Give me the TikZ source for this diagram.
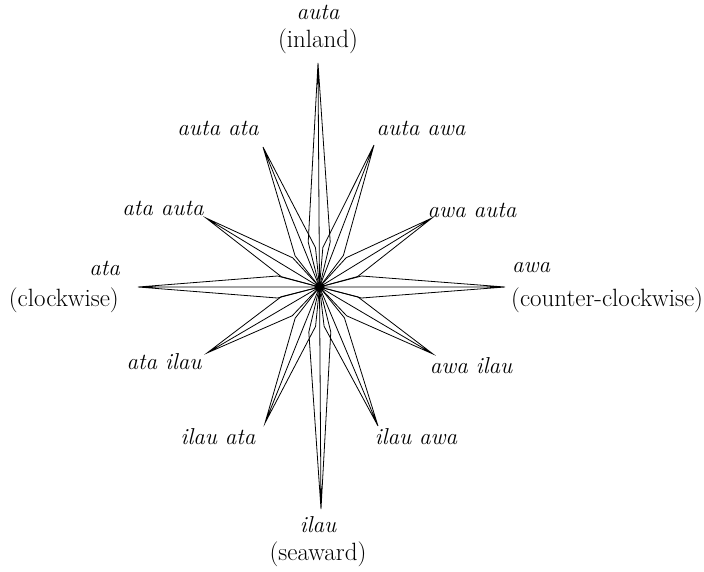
\documentclass[tikz,border=0pt]{standalone}
\usepackage{tikz}
\usetikzlibrary{calc}

\tikzset{
  kite/.style={line width=0.8pt, line join=miter},
  lbl/.style={font=\fontsize{23}{27}\selectfont\itshape, inner sep=0pt},
  gloss/.style={font=\fontsize{25}{29}\selectfont, inner sep=0pt}
}

\begin{document}
\begin{tikzpicture}[x=1pt,y=-1pt]
\useasboundingbox (0,0) rectangle (704,571);
% centre and tips
\coordinate (c) at (319.5,287);
\coordinate (n) at (318,63);
\coordinate (s) at (321,509);
\coordinate (w) at (138,287);
\coordinate (e) at (505,287);
\coordinate (nnw) at (263,147);
\coordinate (nne) at (374,145);
\coordinate (wnw) at (206,218);
\coordinate (ene) at (432,218);
\coordinate (wsw) at (207,353);
\coordinate (ese) at (433,354);
\coordinate (ssw) at (265,423);
\coordinate (sse) at (378,426);
% the twelve points
\foreach \t/\len in {n/45,s/45,w/42,e/42,nnw/38,nne/38,wnw/38,ene/38,wsw/38,ese/38,ssw/38,sse/38}
  \draw[kite] (c) -- ($(c)!\len pt!(\t)!11pt!90:(\t)$) -- (\t)
    -- ($(c)!\len pt!(\t)!11pt!-90:(\t)$) -- cycle
    (c) -- (\t);
% labels
\node[lbl] (auta) at (318,12) {auta};
\node[gloss] (inland) at (318,41) {(inland)};
\node[lbl] (ilau) at (318,525) {ilau};
\node[gloss] (seaward) at (318,554) {(seaward)};
\node[lbl,anchor=east] (ata) at (120,268) {ata};
\node[gloss,anchor=east] (clockwise) at (119,300) {(clockwise)};
\node[lbl,anchor=west] (awa) at (512,268) {awa};
\node[gloss,anchor=west] (counter) at (511,300) {(counter-clockwise)};
\node[lbl] (autaata) at (218,128) {auta ata};
\node[lbl] (autaawa) at (421,128) {auta awa};
\node[lbl] (ataauta) at (163,208) {ata auta};
\node[lbl] (awaauta) at (472,210) {awa auta};
\node[lbl] (atailau) at (164,362) {ata ilau};
\node[lbl] (awailau) at (471,366) {awa ilau};
\node[lbl] (ilauata) at (218,437) {ilau ata};
\node[lbl] (ilauawa) at (416,437) {ilau awa};
\end{tikzpicture}
\end{document}
